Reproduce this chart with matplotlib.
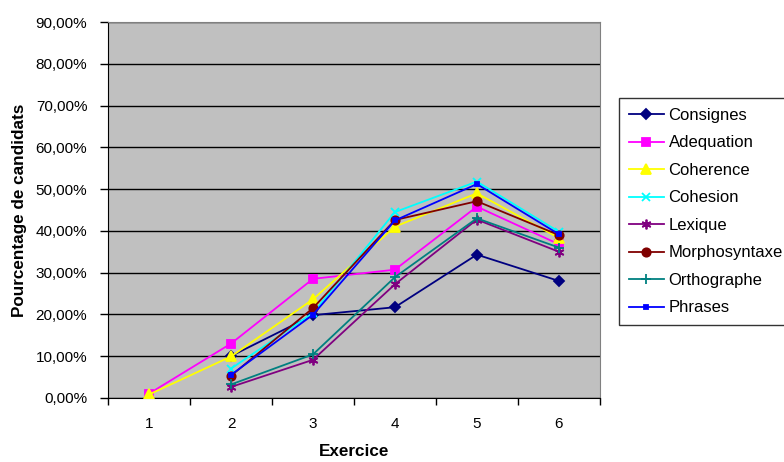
import numpy as np
import matplotlib.pyplot as plt
from matplotlib.ticker import FuncFormatter, FixedLocator

plt.rcParams['font.family'] = ['Liberation Sans', 'DejaVu Sans']

# ----------------------------
# Data
# ----------------------------
exercices = [1, 2, 3, 4, 5, 6]
nan = np.nan

consignes = [nan, 0.100, 0.198, 0.217, 0.343, 0.280]
adequation = [0.010, 0.130, 0.285, 0.307, 0.458, 0.368]
coherence = [0.008, 0.099, 0.236, 0.410, 0.490, 0.383]
cohesion = [nan, 0.070, 0.203, 0.445, 0.518, 0.398]
lexique = [nan, 0.026, 0.091, 0.272, 0.427, 0.350]
morphosyntaxe = [nan, 0.053, 0.215, 0.426, 0.471, 0.390]
orthographe = [nan, 0.032, 0.104, 0.289, 0.430, 0.360]
phrases = [nan, 0.055, 0.199, 0.425, 0.512, 0.392]

series = [
    ("Consignes", consignes, "#000080", "D", 5),
    ("Adequation", adequation, "#FF00FF", "s", 6),
    ("Coherence", coherence, "#FFFF00", "^", 7),
    ("Cohesion", cohesion, "#00FFFF", "x", 6),
    ("Lexique", lexique, "#800080", (6, 2, 0), 7),
    ("Morphosyntaxe", morphosyntaxe, "#800000", "o", 6),
    ("Orthographe", orthographe, "#008080", "+", 7),
    ("Phrases", phrases, "#0000FF", "s", 3),
]

fig = plt.figure(figsize=(7.84, 4.62), dpi=100)
ax = fig.add_axes([0.138, 0.139, 0.627, 0.813])
ax.set_facecolor("#C0C0C0")

for name, vals, col, mk, ms in series:
    ax.plot(exercices, vals, color=col, marker=mk, markersize=ms,
            markerfacecolor=col, markeredgecolor=col, linewidth=1.3,
            markeredgewidth=1.3, label=name, zorder=3)

ax.set_xlim(0.5, 6.5)
ax.set_ylim(0, 0.9)

# y axis
ax.set_yticks(np.arange(0, 0.91, 0.1))
ax.yaxis.set_major_formatter(FuncFormatter(lambda v, p: f"{v*100:.2f}%".replace(".", ",")))
ax.grid(axis="y", color="black", linewidth=1.0, zorder=1)
ax.set_axisbelow(True)

# x axis: ticks between categories, labels centred
ax.xaxis.set_major_locator(FixedLocator(np.arange(0.5, 7, 1)))
ax.xaxis.set_minor_locator(FixedLocator(exercices))
ax.xaxis.set_major_formatter(FuncFormatter(lambda v, p: ""))
ax.xaxis.set_minor_formatter(FuncFormatter(lambda v, p: f"{int(v)}"))
ax.tick_params(axis="x", which="major", direction="out", length=5, width=1)
ax.tick_params(axis="x", which="minor", length=0, pad=14, labelsize=11)
ax.tick_params(axis="y", direction="out", length=5.5, width=1, labelsize=11, pad=9.5)

for s in ["top", "right"]:
    ax.spines[s].set_color("#808080")
for s in ["left", "bottom"]:
    ax.spines[s].set_color("black")

ax.set_xlabel("Exercice", fontsize=12.3, fontweight="bold", labelpad=9)
ax.set_ylabel("Pourcentage de candidats", fontsize=12.3, fontweight="bold", labelpad=6)

leg = fig.legend(loc="upper left", bbox_to_anchor=(0.789, 0.788), fontsize=12,
                 frameon=True, fancybox=False, handlelength=2.1, borderpad=0.6,
                 labelspacing=0.75, handletextpad=0.3, borderaxespad=0)
leg.get_frame().set_edgecolor("black")
leg.get_frame().set_linewidth(1.0)

fig.savefig("out.png", dpi=100)
